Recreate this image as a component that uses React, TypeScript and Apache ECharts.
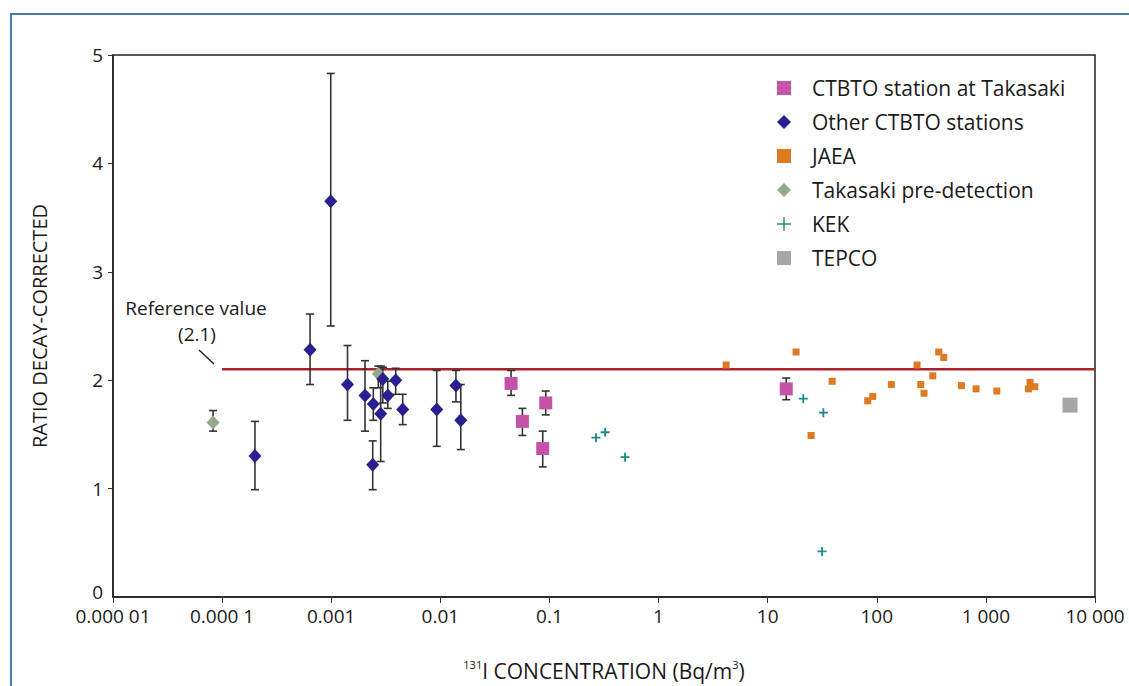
import React, { useEffect, useRef } from "react";
import * as echarts from "echarts";

// [concentration (Bq/m3), ratio, lower, upper]
const ctbtoTakasaki: number[][] = [
  [0.0445, 1.97, 1.86, 2.09],
  [0.0565, 1.62, 1.49, 1.74],
  [0.0925, 1.79, 1.68, 1.9],
  [0.0868, 1.37, 1.2, 1.53],
  [14.8, 1.92, 1.82, 2.02],
];

const otherCtbto: number[][] = [
  [0.0002, 1.3, 0.99, 1.62],
  [0.00064, 2.28, 1.96, 2.61],
  [0.00099, 3.65, 2.5, 4.83],
  [0.00141, 1.96, 1.63, 2.32],
  [0.00204, 1.86, 1.53, 2.18],
  [0.00243, 1.78, 1.63, 1.93],
  [0.0024, 1.22, 0.99, 1.44],
  [0.00284, 1.69, 1.25, 2.13],
  [0.00297, 2.01, 1.79, 2.12],
  [0.0033, 1.86, 1.74, 1.99],
  [0.0039, 2.0, 1.87, 2.11],
  [0.00452, 1.73, 1.59, 1.87],
  [0.00927, 1.73, 1.39, 2.09],
  [0.0139, 1.95, 1.8, 2.09],
  [0.0154, 1.63, 1.36, 1.96],
];

const preDetection: number[][] = [
  [0.0000826, 1.61, 1.53, 1.72],
  [0.0027, 2.06, 1.93, 2.13],
];

const jaea: number[][] = [
  [4.16, 2.14],
  [18.2, 2.26],
  [25.0, 1.49],
  [39.0, 1.99],
  [82.6, 1.81],
  [91.8, 1.85],
  [136, 1.96],
  [234, 2.14],
  [253, 1.96],
  [271, 1.88],
  [326, 2.04],
  [370, 2.26],
  [411, 2.21],
  [597, 1.95],
  [813, 1.92],
  [1259, 1.9],
  [2541, 1.98],
  [2455, 1.92],
  [2806, 1.94],
];

const kek: number[][] = [
  [0.267, 1.47],
  [0.324, 1.52],
  [0.493, 1.29],
  [21.2, 1.83],
  [32.4, 1.7],
  [31.5, 0.42],
];

const tepco: number[][] = [[5900, 1.77]];

const referenceValue = 2.1;
const referenceRange = [0.0001, 10000];

const xTickLabels = [
  "0.000 01",
  "0.000 1",
  "0.001",
  "0.01",
  "0.1",
  "1",
  "10",
  "100",
  "1 000",
  "10 000",
];

const seriesNames = [
  "CTBTO station at Takasaki",
  "Other CTBTO stations",
  "JAEA",
  "Takasaki pre-detection",
  "KEK",
  "TEPCO",
];

const FONT = "'Open Sans', 'Noto Sans', sans-serif";
const PLUS = "path://M4,0H6V4H10V6H6V10H4V6H0V4H4Z";
const PLUS_THIN = "path://M4.5,0H5.5V4.5H10V5.5H5.5V10H4.5V5.5H0V4.5H4.5Z";

function errorBars(data: number[][]) {
  return {
    type: "custom",
    data,
    z: 1,
    silent: true,
    encode: { x: 0, y: [1, 2, 3] },
    renderItem: (_params: any, api: any) => {
      const x = api.value(0);
      const lo = api.coord([x, api.value(2)]);
      const hi = api.coord([x, api.value(3)]);
      const w = 4;
      const style = { stroke: "#333", lineWidth: 1.6 };
      return {
        type: "group",
        children: [
          { type: "line", shape: { x1: lo[0], y1: lo[1], x2: hi[0], y2: hi[1] }, style },
          { type: "line", shape: { x1: lo[0] - w, y1: lo[1], x2: lo[0] + w, y2: lo[1] }, style },
          { type: "line", shape: { x1: hi[0] - w, y1: hi[1], x2: hi[0] + w, y2: hi[1] }, style },
        ],
      };
    },
  };
}

export default function App() {
  const ref = useRef<HTMLDivElement>(null);
  useEffect(() => {
    document.body.style.margin = "0";
    const chart = echarts.init(ref.current!, null, { renderer: "svg" });
    chart.setOption({
      animation: false,
      backgroundColor: "#fff",
      textStyle: { fontFamily: FONT },
      grid: {
        left: 113,
        right: 34,
        top: 55,
        bottom: 89,
        show: true,
        borderColor: "#222",
        borderWidth: 1.5,
      },
      legend: {
        orient: "vertical",
        left: 772,
        top: 72,
        itemWidth: 14,
        itemHeight: 14,
        itemGap: 12,
        data: [
          { name: seriesNames[0], icon: "rect" },
          { name: seriesNames[1], icon: "diamond" },
          { name: seriesNames[2], icon: "rect" },
          { name: seriesNames[3], icon: "diamond" },
          { name: seriesNames[4], icon: PLUS_THIN },
          { name: seriesNames[5], icon: "rect" },
        ],
        textStyle: {
          fontSize: 21,
          lineHeight: 22,
          color: "#1a1a1a",
          fontFamily: FONT,
          padding: [0, 0, 0, 16],
        },
      },
      xAxis: {
        type: "log",
        logBase: 10,
        min: 0.00001,
        max: 10000,
        interval: 1,
        name: "{sup|131}{n|I CONCENTRATION (Bq/m}{sup|3}{n|)}",
        nameLocation: "middle",
        nameGap: 62,
        nameTextStyle: {
          rich: {
            n: { fontSize: 21, color: "#1a1a1a", fontFamily: FONT },
            sup: { fontSize: 11, color: "#1a1a1a", fontFamily: FONT, verticalAlign: "top", padding: [0, 0, 12, 0] },
          },
        },
        axisLine: { show: true, lineStyle: { color: "#222", width: 1.5 } },
        axisTick: { show: true, inside: false, length: 6, lineStyle: { color: "#333" } },
        minorTick: { show: false },
        splitLine: { show: false },
        axisLabel: {
          fontSize: 19,
          color: "#1a1a1a",
          margin: 9,
          verticalAlign: "top",
          fontFamily: FONT,
          formatter: (v: number) => xTickLabels[Math.round(Math.log10(v)) + 5],
        },
      },
      yAxis: {
        type: "value",
        min: 0,
        max: 5,
        interval: 1,
        name: "RATIO DECAY-CORRECTED",
        nameLocation: "middle",
        nameGap: 64,
        nameTextStyle: { fontSize: 20, color: "#1a1a1a", fontFamily: FONT },
        axisLine: { show: true, lineStyle: { color: "#222", width: 1.5 } },
        axisTick: { show: true, inside: false, length: 5, lineStyle: { color: "#333" } },
        splitLine: { show: false },
        axisLabel: {
          fontSize: 19,
          color: "#1a1a1a",
          margin: 10,
          fontFamily: FONT,
          showMinLabel: false,
        },
      },
      graphic: [
        {
          type: "rect",
          shape: { x: 11, y: 14, width: 1300, height: 900 },
          style: { fill: "none", stroke: "#4a76a8", lineWidth: 2 },
          silent: true,
        },
        {
          type: "text",
          x: 103,
          y: 592,
          style: { text: "0", font: `19px ${FONT}`, fill: "#1a1a1a", align: "right", verticalAlign: "middle" },
        },
        {
          type: "text",
          x: 196,
          y: 308,
          style: { text: "Reference value", font: `19px ${FONT}`, fill: "#1a1a1a", align: "center", verticalAlign: "middle" },
        },
        {
          type: "text",
          x: 197,
          y: 334,
          style: { text: "(2.1)", font: `19px ${FONT}`, fill: "#1a1a1a", align: "center", verticalAlign: "middle" },
        },
        {
          type: "line",
          shape: { x1: 199, y1: 350, x2: 214, y2: 364 },
          style: { stroke: "#1a1a1a", lineWidth: 1.3 },
        },
      ],
      series: [
        {
          name: "Reference",
          type: "line",
          data: referenceRange.map((x) => [x, referenceValue]),
          symbol: "none",
          lineStyle: { color: "#a8232d", width: 2.5 },
          z: 0,
          silent: true,
        },
        errorBars(otherCtbto),
        errorBars(ctbtoTakasaki),
        errorBars(preDetection),
        {
          name: seriesNames[3],
          type: "scatter",
          data: preDetection.map((d) => [d[0], d[1]]),
          symbol: "diamond",
          symbolSize: [13, 14],
          itemStyle: { color: "#95a88a", opacity: 1 },
          z: 3,
        },
        {
          name: seriesNames[1],
          type: "scatter",
          data: otherCtbto.map((d) => [d[0], d[1]]),
          symbol: "diamond",
          symbolSize: [13, 14],
          itemStyle: { color: "#2a1f8e", opacity: 1 },
          z: 4,
        },
        {
          name: seriesNames[0],
          type: "scatter",
          data: ctbtoTakasaki.map((d) => [d[0], d[1]]),
          symbol: "rect",
          symbolSize: 13,
          itemStyle: { color: "#c452a6", opacity: 1 },
          z: 4,
        },
        {
          name: seriesNames[2],
          type: "scatter",
          data: jaea,
          symbol: "rect",
          symbolSize: 7,
          itemStyle: { color: "#dd7a22", opacity: 1 },
          z: 4,
        },
        {
          name: seriesNames[4],
          type: "scatter",
          data: kek,
          symbol: PLUS,
          symbolSize: 9,
          itemStyle: { color: "#1d8a86", opacity: 1 },
          z: 4,
        },
        {
          name: seriesNames[5],
          type: "scatter",
          data: tepco,
          symbol: "rect",
          symbolSize: 15,
          itemStyle: { color: "#a6a6a6", opacity: 1 },
          z: 4,
        },
      ],
    });
    return () => chart.dispose();
  }, []);
  return (
    <div
      ref={ref}
      style={{ position: "absolute", left: 0, top: 0, width: 1129, height: 686 }}
    />
  );
}
